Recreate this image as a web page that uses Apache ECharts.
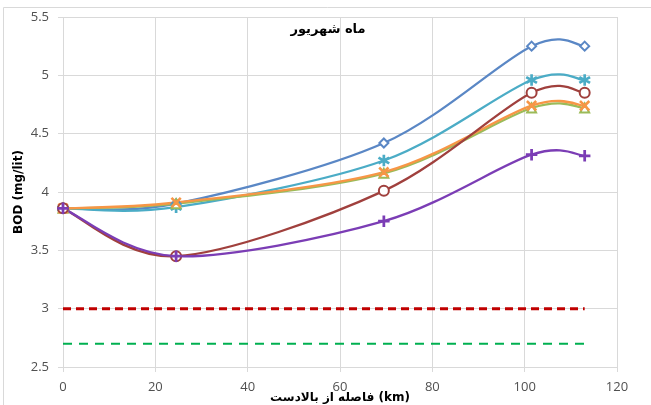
<!DOCTYPE html>
<html><head><meta charset="utf-8">
<script src="https://cdn.jsdelivr.net/npm/echarts@6/dist/echarts.min.js"></script>
<style>html,body{margin:0;padding:0;background:#fff}#c{width:651px;height:405px}</style>
</head><body><div id="c"></div>
<script>
const distances = [0, 24.5, 69.5, 101.5, 113];
const seriesBlue = [3.86, 3.90, 4.42, 5.25, 5.25];
const seriesCyan = [3.86, 3.87, 4.27, 4.96, 4.96];
const seriesOrange = [3.86, 3.91, 4.17, 4.74, 4.74];
const seriesGreen = [3.86, 3.90, 4.16, 4.72, 4.72];
const seriesRed = [3.86, 3.45, 4.01, 4.85, 4.85];
const seriesPurple = [3.86, 3.45, 3.75, 4.32, 4.31];
const limitRed = 3.0;
const limitGreen = 2.7;
const limitX = [0, 113];
const title = 'ماه شهریور';
const xName = 'فاصله از بالادست (km)';
const yName = 'BOD (mg/lit)';

const pair = arr => distances.map((d, i) => [d, arr[i]]);
const starPath = 'path://M9,0 L11,0 L11,7.6 L17.4,3.9 L18.4,5.6 L12,9.3 L18.4,13 L17.4,14.7 L11,11 L11,18.6 L9,18.6 L9,11 L2.6,14.7 L1.6,13 L8,9.3 L1.6,5.6 L2.6,3.9 L9,7.6 Z';
const xPath = 'path://M1.4,0 L8,6.6 L14.6,0 L16,1.4 L9.4,8 L16,14.6 L14.6,16 L8,9.4 L1.4,16 L0,14.6 L6.6,8 L0,1.4 Z';
const plusPath = 'path://M7,0 L9,0 L9,7 L16,7 L16,9 L9,9 L9,16 L7,16 L7,9 L0,9 L0,7 L7,7 Z';

// Excel-like smoothed curve (Catmull-Rom style bezier) drawn segment by segment via axis coords
function curve(name, data, color) {
  const pts = pair(data);
  return {
    name: name + '-curve', type: 'custom', data: pts, z: 3, silent: true,
    encode: { x: 0, y: 1 },
    renderItem: function (params, api) {
      const i = params.dataIndex;
      if (i >= pts.length - 1) return null;
      const p = j => api.coord(pts[Math.max(0, Math.min(pts.length - 1, j))]);
      const p0 = p(i - 1), p1 = p(i), p2 = p(i + 1), p3 = p(i + 2);
      const k = 0.16;
      return {
        type: 'bezierCurve',
        shape: {
          x1: p1[0], y1: p1[1], x2: p2[0], y2: p2[1],
          cpx1: p1[0] + (p2[0] - p0[0]) * k, cpy1: p1[1] + (p2[1] - p0[1]) * k,
          cpx2: p2[0] - (p3[0] - p1[0]) * k, cpy2: p2[1] - (p3[1] - p1[1]) * k
        },
        style: { stroke: color, lineWidth: 2.3, fill: null }
      };
    }
  };
}
function markers(name, data, color, symbol, size) {
  return {
    name, type: 'scatter', data: pair(data), symbol, symbolSize: size, z: 4,
    itemStyle: { color, borderColor: color, borderWidth: 1.5, opacity: 1 }
  };
}
const chart = echarts.init(document.getElementById('c'));
chart.setOption({
  animation: false,
  title: { text: title, left: 323, top: 18, textAlign: 'center',
    textStyle: { fontFamily: 'DejaVu Sans', fontSize: 13, fontWeight: 'bold', color: '#000' } },
  grid: { left: 63, right: 34, top: 17, bottom: 38, containLabel: false, outerBoundsMode: 'none' },
  xAxis: {
    type: 'value', min: 0, max: 120, interval: 20,
    name: xName, nameLocation: 'middle', nameGap: 25, nameMoveOverlap: false,
    nameTextStyle: { fontFamily: 'DejaVu Sans', fontSize: 12, fontWeight: 'bold', color: '#000' },
    axisLine: { show: false },
    axisTick: { show: true, length: 5, lineStyle: { color: '#d9d9d9' } },
    axisLabel: { fontFamily: 'Open Sans', fontSize: 13, color: '#505050', margin: 14 },
    splitLine: { show: true, lineStyle: { color: '#d9d9d9', width: 1 } }
  },
  yAxis: {
    type: 'value', min: 2.5, max: 5.5, interval: 0.5,
    name: yName, nameLocation: 'middle', nameGap: 38, nameRotate: 90, nameMoveOverlap: false,
    nameTextStyle: { fontFamily: 'DejaVu Sans', fontSize: 12, fontWeight: 'bold', color: '#000' },
    axisLine: { show: false },
    axisTick: { show: true, length: 5, lineStyle: { color: '#d9d9d9' } },
    axisLabel: { fontFamily: 'Open Sans', fontSize: 13, color: '#505050', margin: 14 },
    splitLine: { show: true, lineStyle: { color: '#d9d9d9', width: 1 } }
  },
  series: [
    curve('blue', seriesBlue, '#5A87C5'),
    curve('cyan', seriesCyan, '#4BACC6'),
    curve('green', seriesGreen, '#9BBB59'),
    curve('orange', seriesOrange, '#F79646'),
    curve('red', seriesRed, '#A0403D'),
    curve('purple', seriesPurple, '#7B3DB5'),
    markers('blue', seriesBlue, '#5A87C5', 'emptyDiamond', 9),
    markers('cyan', seriesCyan, '#4BACC6', starPath, 10),
    markers('green', seriesGreen, '#9BBB59', 'emptyTriangle', 9),
    markers('orange', seriesOrange, '#F79646', xPath, 9),
    markers('red', seriesRed, '#A0403D', 'emptyCircle', 10),
    markers('purple', seriesPurple, '#7B3DB5', plusPath, 10),
    { name: 'limRed', type: 'line', data: limitX.map(x => [x, limitRed]), symbol: 'none',
      lineStyle: { color: '#C00000', width: 3, type: [8, 5] }, z: 2 },
    { name: 'limGreen', type: 'line', data: limitX.map(x => [x, limitGreen]), symbol: 'none',
      lineStyle: { color: '#00B050', width: 2, type: [9, 7] }, z: 2 }
  ],
  graphic: [
    { type: 'rect', shape: { x: 3.5, y: 7.5, width: 660, height: 420 }, style: { fill: 'none', stroke: '#d9d9d9', lineWidth: 1 }, silent: true }
  ]
});
</script></body></html>
